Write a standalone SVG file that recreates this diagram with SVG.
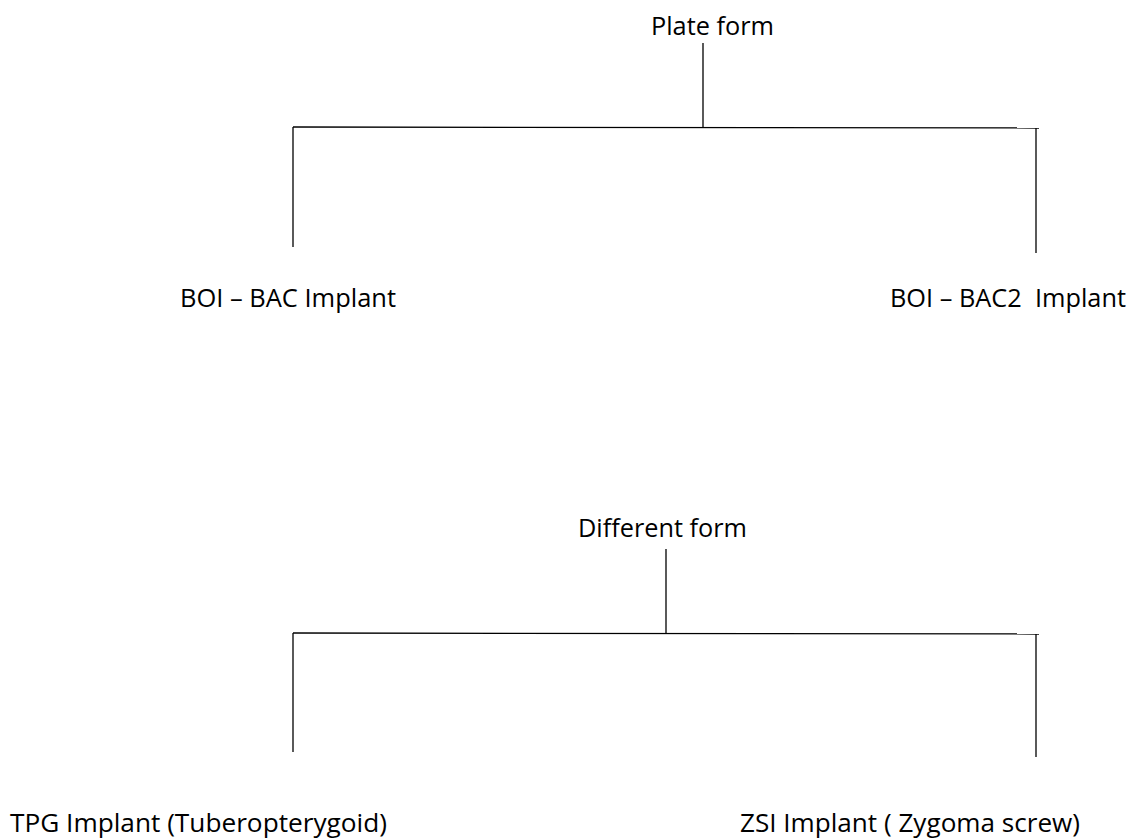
<svg xmlns="http://www.w3.org/2000/svg" width="1129" height="840" viewBox="0 0 1129 840">
<style>
.t{font-family:"Open Sans","Liberation Sans",sans-serif;font-size:25px;fill:#000}
.c{stroke:#000;stroke-width:1.3;fill:none}
</style>
<rect width="1129" height="840" fill="#fff"/>
<g id="connectors">
<line class="c" x1="703" y1="43" x2="703" y2="128"/>
<line class="c" x1="293" y1="127" x2="1039" y2="128"/>
<line class="c" x1="293" y1="127" x2="293" y2="247"/>
<line class="c" x1="1036" y1="128" x2="1036" y2="253"/>
<line class="c" x1="666" y1="549" x2="666" y2="633"/>
<line class="c" x1="293" y1="633" x2="1039" y2="634"/>
<line class="c" x1="293" y1="633" x2="293" y2="752"/>
<line class="c" x1="1036" y1="634" x2="1036" y2="757"/>
</g>
<g id="plate-form"><text class="t" x="651" y="35" textLength="123" lengthAdjust="spacingAndGlyphs">Plate form</text></g>
<g id="boi-bac"><text class="t" x="180" y="307" textLength="216" lengthAdjust="spacingAndGlyphs">BOI – BAC Implant</text></g>
<g id="boi-bac2"><text class="t" x="890" y="307" textLength="236" lengthAdjust="spacingAndGlyphs" xml:space="preserve">BOI – BAC2  Implant</text></g>
<g id="different-form"><text class="t" x="578" y="537" textLength="169" lengthAdjust="spacingAndGlyphs">Different form</text></g>
<g id="tpg"><text class="t" x="10" y="832" textLength="377" lengthAdjust="spacingAndGlyphs">TPG Implant (Tuberopterygoid)</text></g>
<g id="zsi"><text class="t" x="740" y="832" textLength="340" lengthAdjust="spacingAndGlyphs">ZSI Implant ( Zygoma screw)</text></g>
</svg>
